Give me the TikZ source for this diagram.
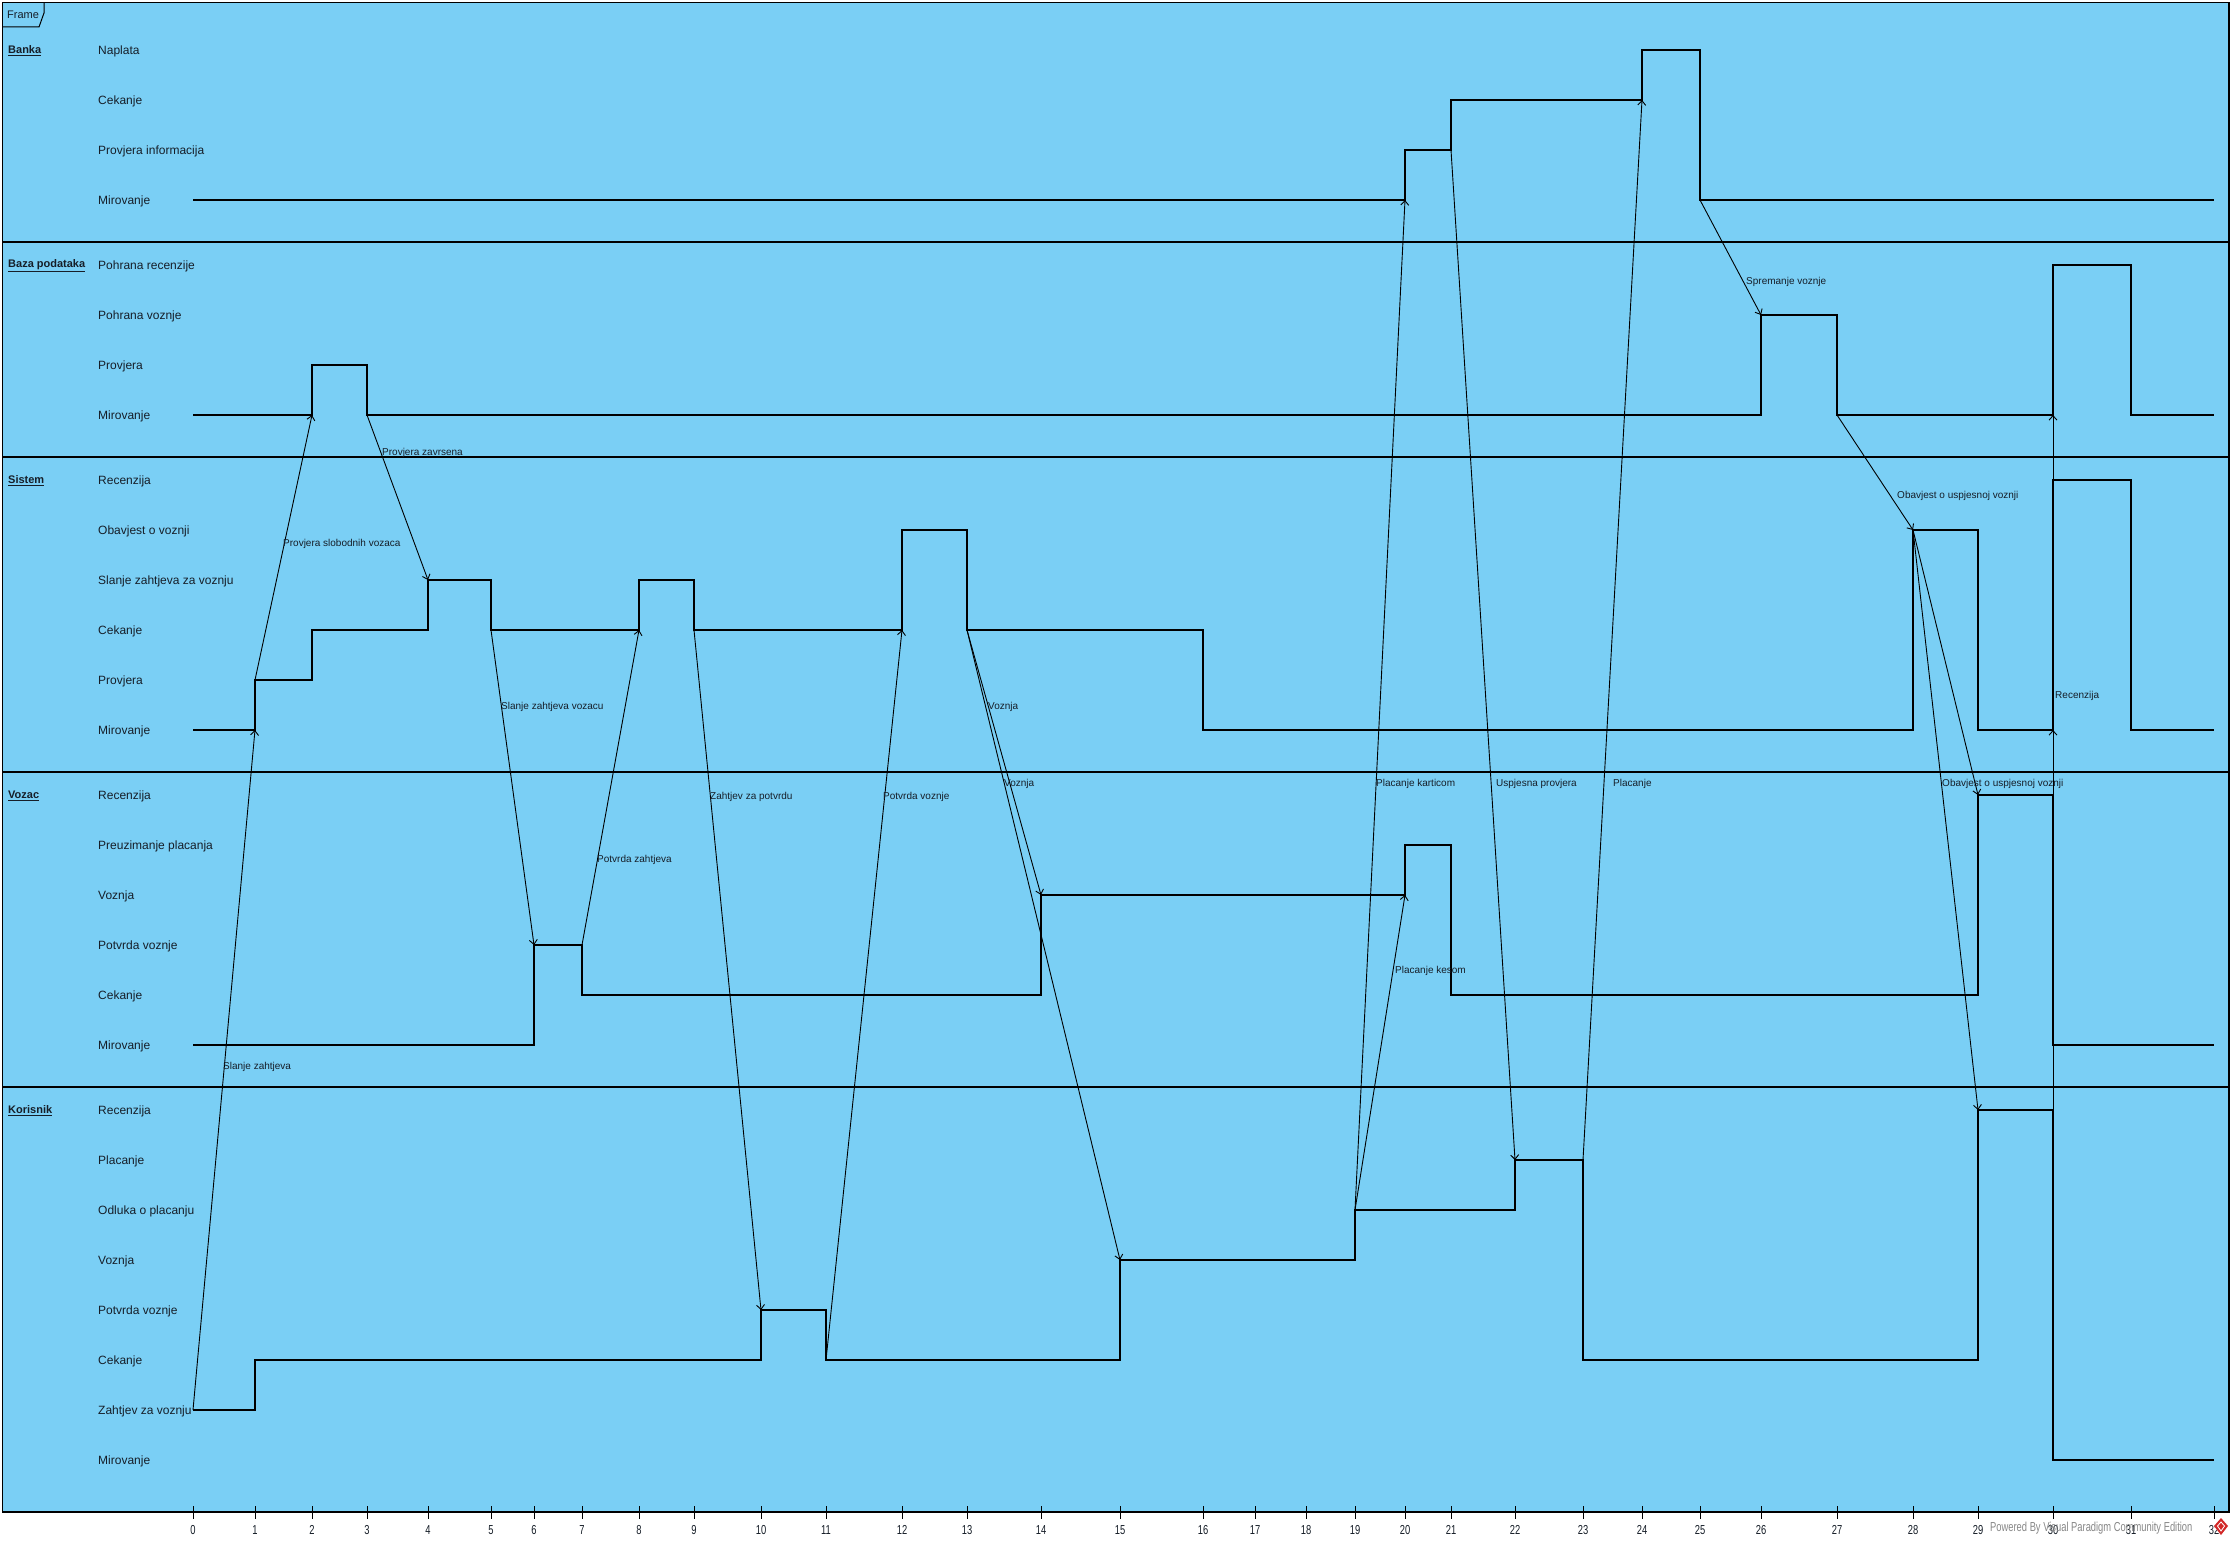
\documentclass[tikz,border=0pt]{standalone}
\usepackage{fontspec}
\setmainfont{Liberation Sans}
\usetikzlibrary{arrows.meta}
\definecolor{vpblue}{RGB}{122,207,245}
\definecolor{txt}{RGB}{22,30,40}
\definecolor{wmgray}{RGB}{135,135,135}
\definecolor{vpred}{RGB}{210,40,40}
\begin{document}
\begin{tikzpicture}[x=1pt,y=-1pt,
  wave/.style={line width=1.3pt},
  frameline/.style={line width=1.3pt},
  msg/.style={line width=0.9pt,-{Straight Barb[length=4.5pt,width=8pt,line width=0.9pt]}},
  rowlbl/.style={anchor=west,inner sep=0pt,font=\fontsize{12}{14}\selectfont,text=txt},
  seclbl/.style={anchor=west,inner sep=0pt,font=\bfseries\fontsize{11}{13}\selectfont,text=txt},
  msglbl/.style={anchor=west,inner sep=0pt,font=\fontsize{10}{12}\selectfont,text=txt},
  ticklbl/.style={anchor=center,inner sep=0pt,font=\fontsize{13}{15}\selectfont,text=txt},
  wmark/.style={anchor=west,inner sep=0pt,font=\fontsize{13}{15}\selectfont,text=wmgray}]
\useasboundingbox (0,0) rectangle (2233,1544);
\fill[white] (0,0) rectangle (2233,1544);
\fill[vpblue] (2.5,2.5) rectangle (2229,1512);
\draw[frameline] (2.5,2.5) rectangle (2229,1512);
% frame tag
\draw[line width=1pt] (2.5,27) -- (39,27) -- (44,13) -- (44,2.5);
\node[msglbl,font=\fontsize{11}{13}\selectfont] (frametag) at (7,15) {Frame};
% section boundaries
\foreach \yy in {242,457,772,1087} \draw[frameline] (2.5,\yy) -- (2229,\yy);
% time ticks
\foreach \n/\xx in {0/193,1/255,2/312,3/367,4/428,5/491,6/534,7/582,8/639,9/694,10/761,11/826,12/902,13/967,14/1041,15/1120,16/1203,17/1255,18/1306,19/1355,20/1405,21/1451,22/1515,23/1583,24/1642,25/1700,26/1761,27/1837,28/1913,29/1978,30/2053,31/2131,32/2214}{
  \coordinate (t\n) at (\xx,1512);
  \draw[line width=0.9pt] (\xx,1506) -- (\xx,1519);
  \node[ticklbl] (tl\n) at (\xx,1530) {\scalebox{0.72}[1]{\n}};
}
% state levels
\coordinate (bNap) at (0,50);  \coordinate (bCek) at (0,100);
\coordinate (bPI) at (0,150);  \coordinate (bMir) at (0,200);
\coordinate (zPR) at (0,265);  \coordinate (zPV) at (0,315);
\coordinate (zPro) at (0,365); \coordinate (zMir) at (0,415);
\coordinate (sRec) at (0,480); \coordinate (sObv) at (0,530);
\coordinate (sSl) at (0,580);  \coordinate (sCek) at (0,630);
\coordinate (sPro) at (0,680); \coordinate (sMir) at (0,730);
\coordinate (vRec) at (0,795); \coordinate (vPre) at (0,845);
\coordinate (vVoz) at (0,895); \coordinate (vPot) at (0,945);
\coordinate (vCek) at (0,995); \coordinate (vMir) at (0,1045);
\coordinate (kRec) at (0,1110); \coordinate (kPl) at (0,1160);
\coordinate (kOdl) at (0,1210); \coordinate (kVoz) at (0,1260);
\coordinate (kPot) at (0,1310); \coordinate (kCek) at (0,1360);
\coordinate (kZah) at (0,1410); \coordinate (kMir) at (0,1460);
% section labels
\node[seclbl] (secB) at (8,51) {\underline{Banka}};
\node[seclbl] (secZ) at (8,266) {\underline{Baza podataka}};
\node[seclbl] (secS) at (8,481) {\underline{Sistem}};
\node[seclbl] (secV) at (8,796) {\underline{Vozac}};
\node[seclbl] (secK) at (8,1111) {\underline{Korisnik}};
% row labels
\node[rowlbl] (rb1) at (98,51) {Naplata};
\node[rowlbl] (rb2) at (98,101) {Cekanje};
\node[rowlbl] (rb3) at (98,151) {Provjera informacija};
\node[rowlbl] (rb4) at (98,201) {Mirovanje};
\node[rowlbl] (rz1) at (98,266) {Pohrana recenzije};
\node[rowlbl] (rz2) at (98,316) {Pohrana voznje};
\node[rowlbl] (rz3) at (98,366) {Provjera};
\node[rowlbl] (rz4) at (98,416) {Mirovanje};
\node[rowlbl] (rs1) at (98,481) {Recenzija};
\node[rowlbl] (rs2) at (98,531) {Obavjest o voznji};
\node[rowlbl] (rs3) at (98,581) {Slanje zahtjeva za voznju};
\node[rowlbl] (rs4) at (98,631) {Cekanje};
\node[rowlbl] (rs5) at (98,681) {Provjera};
\node[rowlbl] (rs6) at (98,731) {Mirovanje};
\node[rowlbl] (rv1) at (98,796) {Recenzija};
\node[rowlbl] (rv2) at (98,846) {Preuzimanje placanja};
\node[rowlbl] (rv3) at (98,896) {Voznja};
\node[rowlbl] (rv4) at (98,946) {Potvrda voznje};
\node[rowlbl] (rv5) at (98,996) {Cekanje};
\node[rowlbl] (rv6) at (98,1046) {Mirovanje};
\node[rowlbl] (rk1) at (98,1111) {Recenzija};
\node[rowlbl] (rk2) at (98,1161) {Placanje};
\node[rowlbl] (rk3) at (98,1211) {Odluka o placanju};
\node[rowlbl] (rk4) at (98,1261) {Voznja};
\node[rowlbl] (rk5) at (98,1311) {Potvrda voznje};
\node[rowlbl] (rk6) at (98,1361) {Cekanje};
\node[rowlbl] (rk7) at (98,1411) {Zahtjev za voznju};
\node[rowlbl] (rk8) at (98,1461) {Mirovanje};
% waveforms
\draw[wave] (t0|-bMir) -| (t20|-bPI) -| (t21|-bCek) -| (t24|-bNap) -| (t25|-bMir) -- (t32|-bMir);
\draw[wave] (t0|-zMir) -| (t2|-zPro) -| (t3|-zMir) -| (t26|-zPV) -| (t27|-zMir) -| (t30|-zPR) -| (t31|-zMir) -- (t32|-zMir);
\draw[wave] (t0|-sMir) -| (t1|-sPro) -| (t2|-sCek) -| (t4|-sSl) -| (t5|-sCek) -| (t8|-sSl) -| (t9|-sCek) -| (t12|-sObv) -| (t13|-sCek) -| (t16|-sMir) -| (t28|-sObv) -| (t29|-sMir) -| (t30|-sRec) -| (t31|-sMir) -- (t32|-sMir);
\draw[wave] (t0|-vMir) -| (t6|-vPot) -| (t7|-vCek) -| (t14|-vVoz) -| (t20|-vPre) -| (t21|-vCek) -| (t29|-vRec) -| (t30|-vMir) -- (t32|-vMir);
\draw[wave] (t0|-kZah) -| (t1|-kCek) -| (t10|-kPot) -| (t11|-kCek) -| (t15|-kVoz) -| (t19|-kOdl) -| (t22|-kPl) -| (t23|-kCek) -| (t29|-kRec) -| (t30|-kMir) -- (t32|-kMir);
% messages
\draw[msg] (t0|-kZah) -- (t1|-sMir);
\draw[msg] (t1|-sPro) -- (t2|-zMir);
\draw[msg] (t3|-zMir) -- (t4|-sSl);
\draw[msg] (t5|-sCek) -- (t6|-vPot);
\draw[msg] (t7|-vPot) -- (t8|-sCek);
\draw[msg] (t9|-sCek) -- (t10|-kPot);
\draw[msg] (t11|-kCek) -- (t12|-sCek);
\draw[msg] (t13|-sCek) -- (t14|-vVoz);
\draw[msg] (t13|-sCek) -- (t15|-kVoz);
\draw[msg] (t19|-kOdl) -- (t20|-bMir);
\draw[msg] (t19|-kOdl) -- (t20|-vVoz);
\draw[msg] (t21|-bPI) -- (t22|-kPl);
\draw[msg] (t23|-kPl) -- (t24|-bCek);
\draw[msg] (t25|-bMir) -- (t26|-zPV);
\draw[msg] (t27|-zMir) -- (t28|-sObv);
\draw[msg] (t28|-sObv) -- (t29|-vRec);
\draw[msg] (t28|-sObv) -- (t29|-kRec);
\draw[msg] (t30|-kRec) -- (t30|-sMir);
\draw[msg] (t30|-sRec) -- (t30|-zMir);
% message labels
\node[msglbl] (m1) at (223,1067) {Slanje zahtjeva};
\node[msglbl] (m2) at (283,544) {Provjera slobodnih vozaca};
\node[msglbl] (m3) at (382,453) {Provjera zavrsena};
\node[msglbl] (m4) at (501,707) {Slanje zahtjeva vozacu};
\node[msglbl] (m5) at (597,860) {Potvrda zahtjeva};
\node[msglbl] (m6) at (710,797) {Zahtjev za potvrdu};
\node[msglbl] (m7) at (883,797) {Potvrda voznje};
\node[msglbl] (m8) at (988,707) {Voznja};
\node[msglbl] (m9) at (1004,784) {Voznja};
\node[msglbl] (m10) at (1376,784) {Placanje karticom};
\node[msglbl] (m11) at (1395,971) {Placanje kesom};
\node[msglbl] (m12) at (1496,784) {Uspjesna provjera};
\node[msglbl] (m13) at (1613,784) {Placanje};
\node[msglbl] (m14) at (1746,282) {Spremanje voznje};
\node[msglbl] (m15) at (1897,496) {Obavjest o uspjesnoj voznji};
\node[msglbl] (m16) at (1942,784) {Obavjest o uspjesnoj voznji};
\node[msglbl] (m17) at (2055,696) {Recenzija};
% watermark
\node[wmark] (wm) at (1990,1528) {\scalebox{0.72}[1]{Powered By Visual Paradigm Community Edition}};
\fill[vpred] (2221,1518) -- (2228,1526) -- (2221,1535) -- (2214,1526) -- cycle;
\draw[white,line width=0.8pt] (2221,1522) -- (2224.5,1526) -- (2221,1531) -- (2217.5,1526) -- cycle;
\end{tikzpicture}
\end{document}
